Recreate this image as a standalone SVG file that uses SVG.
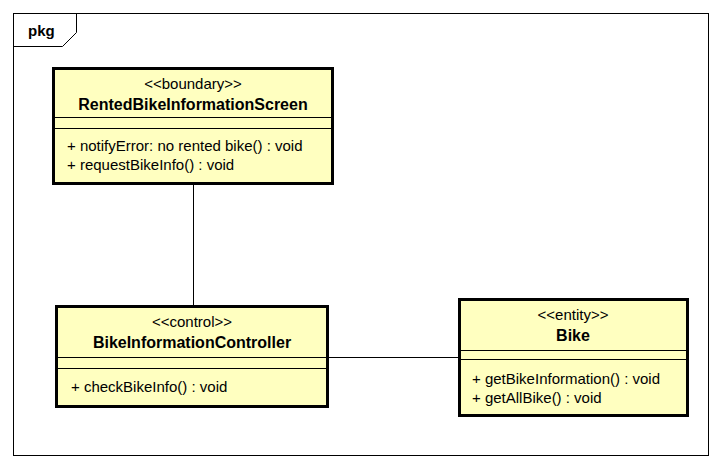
<svg xmlns="http://www.w3.org/2000/svg" width="721" height="469" viewBox="0 0 721 469">
  <style>
    .frame { fill: #ffffff; stroke: #000000; stroke-width: 1; }
    .cls { fill: #ffffc0; stroke: #000000; stroke-width: 3; }
    .sep { stroke: #000000; stroke-width: 1; }
    .edge { stroke: #000000; stroke-width: 1; fill: none; }
    text { font-family: "Liberation Sans", Arial, sans-serif; font-size: 15px; fill: #000000; }
    .st { text-anchor: middle; }
    .nm { text-anchor: middle; font-weight: bold; font-size: 16px; }
    .pkg { font-weight: bold; font-size: 15px; }
  </style>
  <rect width="721" height="469" fill="#ffffff"/>

  <!-- package frame -->
  <g id="pkg">
    <rect class="frame" x="13.5" y="13.5" width="695" height="442"/>
    <path class="edge" d="M13.5,46.5 H62.5 L76.5,32.5 V13.5"/>
    <text class="pkg" x="28" y="36">pkg</text>
  </g>

  <!-- connectors -->
  <g id="connectors">
    <line class="edge" x1="193.5" y1="183" x2="193.5" y2="305"/>
    <line class="edge" x1="328" y1="357.5" x2="459" y2="357.5"/>
  </g>

  <g id="RentedBikeInformationScreen">
    <rect class="cls" x="53.5" y="68.5" width="279" height="115"/>
    <line class="sep" x1="53" y1="117.5" x2="332" y2="117.5"/>
    <line class="sep" x1="53" y1="128.5" x2="332" y2="128.5"/>
    <text class="st" x="193" y="89">&lt;&lt;boundary&gt;&gt;</text>
    <text class="nm" x="193" y="110">RentedBikeInformationScreen</text>
    <text x="67" y="151">+ notifyError: no rented bike() : void</text>
    <text x="67" y="170">+ requestBikeInfo() : void</text>
  </g>

  <g id="BikeInformationController">
    <rect class="cls" x="56.5" y="306.5" width="271" height="100"/>
    <line class="sep" x1="56" y1="357.5" x2="328" y2="357.5"/>
    <line class="sep" x1="56" y1="368.5" x2="328" y2="368.5"/>
    <text class="st" x="192" y="327">&lt;&lt;control&gt;&gt;</text>
    <text class="nm" x="192" y="348">BikeInformationController</text>
    <text x="71" y="392">+ checkBikeInfo() : void</text>
  </g>

  <g id="Bike">
    <rect class="cls" x="459.5" y="299.5" width="228" height="116"/>
    <line class="sep" x1="459" y1="350.5" x2="688" y2="350.5"/>
    <line class="sep" x1="459" y1="359.5" x2="688" y2="359.5"/>
    <text class="st" x="573" y="320">&lt;&lt;entity&gt;&gt;</text>
    <text class="nm" x="573" y="341">Bike</text>
    <text x="472" y="384">+ getBikeInformation() : void</text>
    <text x="472" y="403">+ getAllBike() : void</text>
  </g>
</svg>
